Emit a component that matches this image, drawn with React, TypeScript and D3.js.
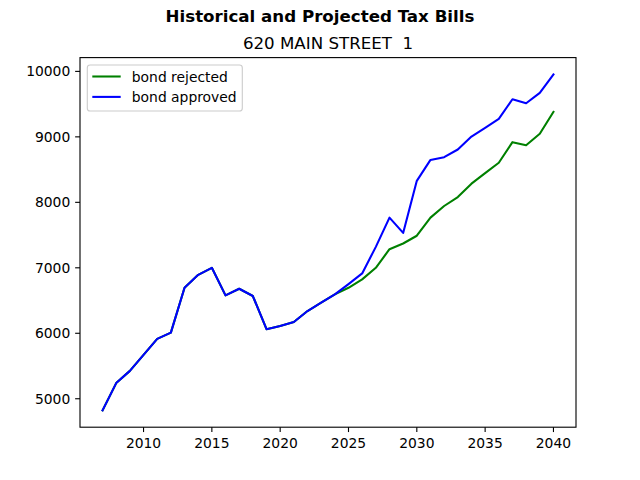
import React from "react";
import * as d3 from "d3";

// Tax bill history and projections for one property, 2007-2040
const years = d3.range(2007, 2041);

const bondRejected = [
  4822, 5239, 5426, 5670, 5914, 6010, 6695, 6893, 7000, 6579, 6680, 6569,
  6062, 6112, 6173, 6340, 6467, 6595, 6695, 6823, 7000, 7284, 7371, 7490,
  7767, 7944, 8081, 8285, 8447, 8605, 8919, 8873, 9047, 9382,
];

const bondApproved = [
  4822, 5239, 5426, 5670, 5914, 6010, 6695, 6893, 7000, 6579, 6680, 6569,
  6062, 6112, 6173, 6340, 6467, 6595, 6751, 6914, 7320, 7767, 7533, 8328,
  8648, 8690, 8807, 9005, 9138, 9275, 9574, 9513, 9671, 9954,
];

const xTicks = [2010, 2015, 2020, 2025, 2030, 2035, 2040];
const yTicks = [5000, 6000, 7000, 8000, 9000, 10000];

const series = [
  { label: "bond rejected", values: bondRejected, color: "#008000" },
  { label: "bond approved", values: bondApproved, color: "#0000ff" },
];

const W = 640;
const H = 480;
const left = 80;
const right = 576;
const top = 57.6;
const bottom = 427.2;
const font = "'DejaVu Sans', sans-serif";

function padded(lo: number, hi: number): [number, number] {
  const m = (hi - lo) * 0.05;
  return [lo - m, hi + m];
}

export default function App() {
  const allVals = [...bondRejected, ...bondApproved];
  const x = d3
    .scaleLinear()
    .domain(padded(d3.min(years)!, d3.max(years)!))
    .range([left, right]);
  const y = d3
    .scaleLinear()
    .domain(padded(d3.min(allVals)!, d3.max(allVals)!))
    .range([bottom, top]);

  const line = (vals: number[]) =>
    d3
      .line<number>()
      .x((_, i) => x(years[i]))
      .y((v) => y(v))(vals) ?? "";

  const tickLen = 4.86;
  const legX = left + 7.3;
  const legY = top + 7.4;

  return (
    <svg
      width={W}
      height={H}
      style={{ position: "absolute", left: 0, top: 0, background: "#fff" }}
      fontFamily={font}
    >
      <rect x={0} y={0} width={W} height={H} fill="#fff" />
      <text
        x={W / 2}
        y={22}
        textAnchor="middle"
        fontSize={16.67}
        fontWeight="bold"
        fill="#000"
      >
        Historical and Projected Tax Bills
      </text>
      <text
        x={(left + right) / 2}
        y={49.3}
        textAnchor="middle"
        fontSize={16.67}
        fill="#000"
        style={{ whiteSpace: "pre" }}
      >
        {"620 MAIN STREET  1"}
      </text>

      <defs>
        <clipPath id="plot-area">
          <rect x={left} y={top} width={right - left} height={bottom - top} />
        </clipPath>
      </defs>

      <g clipPath="url(#plot-area)">
        {series.map((s) => (
          <path
            key={s.label}
            d={line(s.values)}
            fill="none"
            stroke={s.color}
            strokeWidth={2.08}
            strokeLinejoin="round"
            strokeLinecap="square"
          />
        ))}
      </g>

      {/* frame */}
      <rect
        x={left}
        y={top}
        width={right - left}
        height={bottom - top}
        fill="none"
        stroke="#000"
        strokeWidth={1.11}
      />

      {/* x axis */}
      {xTicks.map((t) => (
        <g key={t}>
          <line
            x1={x(t)}
            x2={x(t)}
            y1={bottom}
            y2={bottom + tickLen}
            stroke="#000"
            strokeWidth={1.11}
          />
          <text
            x={x(t)}
            y={bottom + tickLen + 4.86 + 11}
            textAnchor="middle"
            fontSize={13.89}
            fill="#000"
          >
            {t}
          </text>
        </g>
      ))}

      {/* y axis */}
      {yTicks.map((t) => (
        <g key={t}>
          <line
            x1={left - tickLen}
            x2={left}
            y1={y(t)}
            y2={y(t)}
            stroke="#000"
            strokeWidth={1.11}
          />
          <text
            x={left - tickLen - 4.86}
            y={y(t)}
            dy="0.36em"
            textAnchor="end"
            fontSize={13.89}
            fill="#000"
          >
            {t}
          </text>
        </g>
      ))}

      {/* legend */}
      <rect
        x={legX}
        y={legY}
        width={155}
        height={46}
        rx={2.8}
        fill="#fff"
        fillOpacity={0.8}
        stroke="#cccccc"
        strokeWidth={1.11}
      />
      {series.map((s, i) => {
        const cy = legY + 11.5 + i * 20.4;
        return (
          <g key={s.label}>
            <line
              x1={legX + 5}
              x2={legX + 33.4}
              y1={cy}
              y2={cy}
              stroke={s.color}
              strokeWidth={2.08}
            />
            <text
              x={legX + 44.5}
              y={cy}
              dy="0.36em"
              fontSize={13.89}
              fill="#000"
            >
              {s.label}
            </text>
          </g>
        );
      })}
    </svg>
  );
}
